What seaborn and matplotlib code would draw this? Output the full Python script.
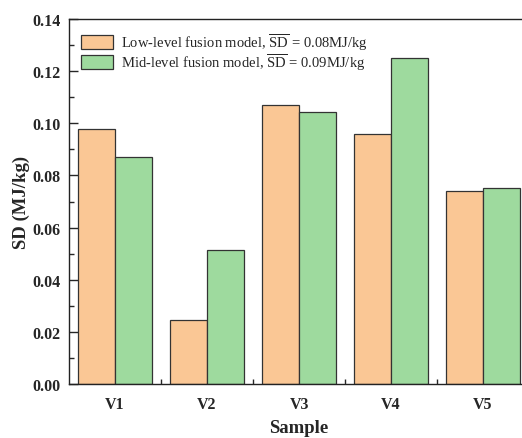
import matplotlib
matplotlib.use("Agg")
import matplotlib.pyplot as plt
import seaborn as sns
import pandas as pd
from matplotlib.ticker import MultipleLocator, FixedLocator

samples = ["V1", "V2", "V3", "V4", "V5"]
low_level = [0.0978, 0.0245, 0.1069, 0.0959, 0.0741]
mid_level = [0.0871, 0.0515, 0.1043, 0.1250, 0.0752]
series_names = [r"Low-level fusion model, $\overline{\rm SD}$ = 0.08MJ/kg",
                r"Mid-level fusion model, $\overline{\rm SD}$ = 0.09MJ/kg"]
colors = ["#FAC795", "#9EDA9E"]
yticks = [0, 0.02, 0.04, 0.06, 0.08, 0.10, 0.12, 0.14]

df = pd.DataFrame({
    "Sample": samples * 2,
    "SD": low_level + mid_level,
    "Model": [series_names[0]] * len(samples) + [series_names[1]] * len(samples),
})

sns.set_style("ticks")
plt.rcParams["font.family"] = ["Liberation Serif", "DejaVu Serif"]
plt.rcParams["mathtext.fontset"] = "custom"
plt.rcParams["mathtext.rm"] = "Liberation Serif"

fig = plt.figure(figsize=(5.22, 4.39), dpi=100)
ax = fig.add_axes([69/522, 1 - 385/439, (529-69)/522, (385-20)/439])

sns.barplot(data=df, x="Sample", y="SD", hue="Model", palette=colors,
            edgecolor="#333333", linewidth=0.9, width=0.8, saturation=1, ax=ax)

ax.set_ylim(0, 0.14)
ax.set_xlim(-0.5, 4.5)
ax.yaxis.set_minor_locator(MultipleLocator(0.01))
ax.xaxis.set_minor_locator(FixedLocator([0.5, 1.5, 2.5, 3.5]))
ax.set_yticks(yticks)
ax.set_yticklabels([f"{v:.2f}" for v in yticks])
ax.tick_params(axis="y", which="major", direction="in", length=6.5, width=1, labelsize=11.5, pad=6)
ax.tick_params(axis="y", which="minor", direction="in", length=3.5, width=1)
ax.tick_params(axis="x", which="major", length=0, labelsize=11.5, pad=9)
ax.tick_params(axis="x", which="minor", direction="in", length=3.5, width=1)
for lbl in ax.get_xticklabels() + ax.get_yticklabels():
    lbl.set_fontweight("bold")
for s in ax.spines.values():
    s.set_visible(True)
    s.set_linewidth(1.0)
    s.set_color("#222222")

ax.set_xlabel("Sample", fontsize=13.5, fontweight="bold", labelpad=5)
ax.set_ylabel("SD (MJ/kg)", fontsize=13.5, fontweight="bold", labelpad=2)

leg = ax.legend(loc="upper left", frameon=False, fontsize=10.5,
                handlelength=2.2, handleheight=1.1, handletextpad=0.5,
                labelspacing=-0.05, bbox_to_anchor=(0.0, 1.0), borderaxespad=0.45)
for h in leg.legend_handles:
    h.set_edgecolor("#333333")
    h.set_linewidth(0.9)

fig.savefig("out.png", dpi=100)
